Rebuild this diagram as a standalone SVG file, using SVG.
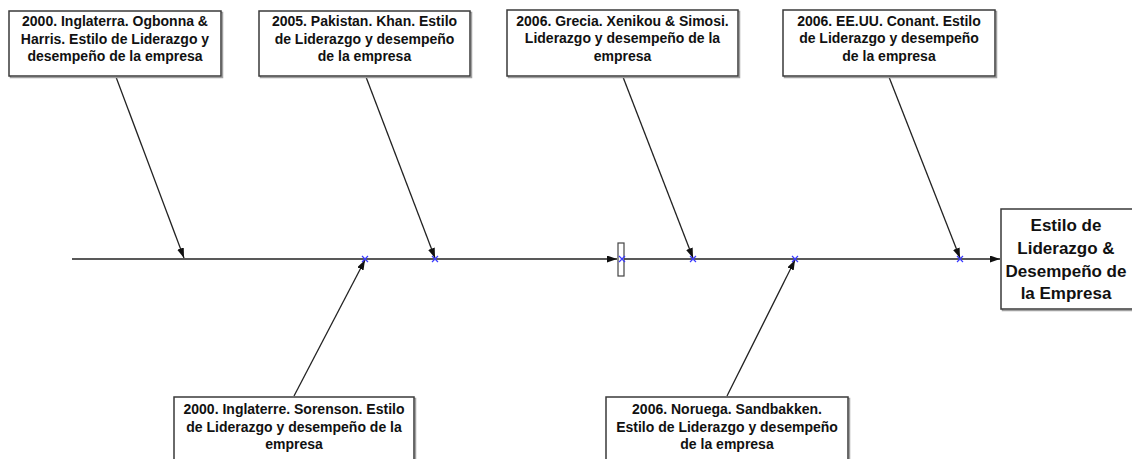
<svg xmlns="http://www.w3.org/2000/svg" width="1132" height="459" viewBox="0 0 1132 459">
<defs>
<style>
.box{fill:#fff;stroke:#3a3a3a;stroke-width:1.5}
.shadow{fill:none;stroke:#a0a0a0;stroke-width:1.5}
.t{font-family:"Liberation Sans",Arial,sans-serif;font-weight:bold;font-size:14px;fill:#111;text-anchor:middle}
.tb{font-family:"Liberation Sans",Arial,sans-serif;font-weight:bold;font-size:17px;fill:#111;text-anchor:middle}
.ln{stroke:#222;stroke-width:1.3;fill:none}
.main{stroke:#222;stroke-width:1.6;fill:none}
.x{stroke:#3a3aff;stroke-width:1.2}
</style>
<marker id="ah" markerWidth="11" markerHeight="8" refX="10" refY="3.5" orient="auto" markerUnits="userSpaceOnUse">
<path d="M0,0 L10,3.5 L0,7 z" fill="#111"/>
</marker>
</defs>
<rect width="1132" height="459" fill="#fff"/>

<g id="connectors">
<line class="main" x1="72" y1="259" x2="617" y2="259" marker-end="url(#ah)"/>
<line class="main" x1="624" y1="259" x2="1000" y2="259" marker-end="url(#ah)"/>
<line class="ln" x1="116" y1="77" x2="184" y2="258" marker-end="url(#ah)"/>
<line class="ln" x1="366" y1="77" x2="435" y2="258" marker-end="url(#ah)"/>
<line class="ln" x1="623" y1="77" x2="693" y2="258" marker-end="url(#ah)"/>
<line class="ln" x1="889" y1="77" x2="960" y2="258" marker-end="url(#ah)"/>
<line class="ln" x1="294" y1="396" x2="365" y2="260" marker-end="url(#ah)"/>
<line class="ln" x1="727" y1="396" x2="795" y2="260" marker-end="url(#ah)"/>
</g>

<g id="marker-rect">
<rect x="618" y="243" width="6" height="33" fill="#fff" stroke="#444" stroke-width="1.2"/>
</g>

<g id="xmarks">
<path class="x" d="M362,256 L368,262 M368,256 L362,262"/>
<path class="x" d="M432,256 L438,262 M438,256 L432,262"/>
<path class="x" d="M619,256 L625,262 M625,256 L619,262"/>
<path class="x" d="M690,256 L696,262 M696,256 L690,262"/>
<path class="x" d="M792,256 L798,262 M798,256 L792,262"/>
<path class="x" d="M957,256 L963,262 M963,256 L957,262"/>
</g>

<g id="box1">
<rect class="shadow" x="10.5" y="12.5" width="212" height="65"/>
<rect class="box" x="9" y="11" width="212" height="65"/>
<text class="t" x="115" y="26">2000. Inglaterra. Ogbonna &amp;</text>
<text class="t" x="115" y="43.5">Harris. Estilo de Liderazgo y</text>
<text class="t" x="115" y="61">desempeño de la empresa</text>
</g>

<g id="box2">
<rect class="shadow" x="260.5" y="12.5" width="211" height="65"/>
<rect class="box" x="259" y="11" width="211" height="65"/>
<text class="t" x="364.5" y="26">2005. Pakistan. Khan. Estilo</text>
<text class="t" x="364.5" y="43.5">de Liderazgo y desempeño</text>
<text class="t" x="364.5" y="61">de la empresa</text>
</g>

<g id="box3">
<rect class="shadow" x="508.5" y="11.5" width="231" height="66"/>
<rect class="box" x="507" y="10" width="231" height="66"/>
<text class="t" x="622.5" y="25.5">2006. Grecia. Xenikou &amp; Simosi.</text>
<text class="t" x="622.5" y="43">Liderazgo y desempeño de la</text>
<text class="t" x="622.5" y="60.5">empresa</text>
</g>

<g id="box4">
<rect class="shadow" x="784.5" y="11.5" width="212" height="66"/>
<rect class="box" x="783" y="10" width="212" height="66"/>
<text class="t" x="889" y="25.5">2006. EE.UU. Conant. Estilo</text>
<text class="t" x="889" y="43">de Liderazgo y desempeño</text>
<text class="t" x="889" y="60.5">de la empresa</text>
</g>

<g id="box5">
<rect class="shadow" x="175.5" y="398.5" width="240" height="70"/>
<rect class="box" x="174" y="397" width="240" height="70"/>
<text class="t" x="294" y="414">2000. Inglaterre. Sorenson. Estilo</text>
<text class="t" x="294" y="431.5">de Liderazgo y desempeño de la</text>
<text class="t" x="294" y="449">empresa</text>
</g>

<g id="box6">
<rect class="shadow" x="607.5" y="398.5" width="242" height="70"/>
<rect class="box" x="606" y="397" width="242" height="70"/>
<text class="t" x="727" y="414">2006. Noruega. Sandbakken.</text>
<text class="t" x="727" y="431.5">Estilo de Liderazgo y desempeño</text>
<text class="t" x="727" y="449">de la empresa</text>
</g>

<g id="target">
<rect class="shadow" x="1002.5" y="210.5" width="140" height="100"/>
<rect class="box" x="1001" y="209" width="140" height="100"/>
<text class="tb" x="1066" y="231">Estilo de</text>
<text class="tb" x="1066" y="254">Liderazgo &amp;</text>
<text class="tb" x="1066" y="277">Desempeño de</text>
<text class="tb" x="1066" y="299">la Empresa</text>
</g>
</svg>
